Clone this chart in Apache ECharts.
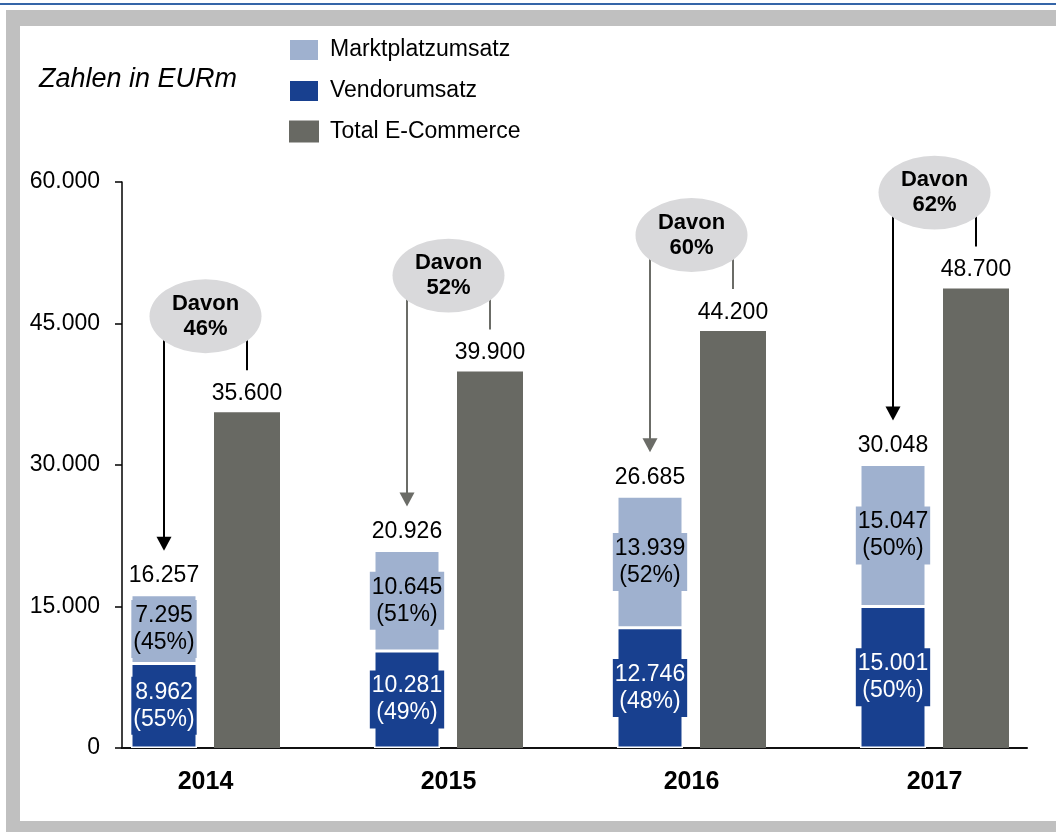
<!DOCTYPE html>
<html>
<head>
<meta charset="utf-8">
<script src="https://cdn.jsdelivr.net/npm/echarts@6/dist/echarts.min.js"></script>
<style>
  body { margin: 0; background: #fff; }
  #topline { position: absolute; left: 0; top: 3px; width: 1056px; height: 2px; background: #3565a8; }
  #frame { position: absolute; left: 6px; top: 10px; right: 0; bottom: 0; background: #c0c0c0; }
  #inner { position: absolute; left: 20px; top: 26px; right: 0; bottom: 11px; background: #fff; }
  #chart { position: absolute; left: 0; top: 0; width: 1056px; height: 832px; }
</style>
</head>
<body>
<div id="topline"></div>
<div id="frame"></div>
<div id="inner"></div>
<div id="chart"></div>
<script>
// Zahlen in EURm
const years = ['2014', '2015', '2016', '2017']
const vendor = [8962, 10281, 12746, 15001]      // Vendorumsatz
const markt = [7295, 10645, 13939, 15047]       // Marktplatzumsatz
const ecommerce = [35600, 39900, 44200, 48700]  // Total E-Commerce
const yTicks = [0, 15000, 30000, 45000, 60000]

const arrowColors = ['#000', '#6b6c67', '#6b6c67', '#000']
const barWidth = 66
const barGapPx = 17
const font = 'Liberation Sans, Arial, sans-serif'

const fmt = v => String(v).replace(/\B(?=(\d{3})+(?!\d))/g, '.')
const totals = vendor.map((v, i) => v + markt[i])

let chart = echarts.init(document.getElementById('chart'))

let option = {
  animation: false,
  textStyle: { fontFamily: font, color: '#000' },
  title: {
    text: 'Zahlen in EURm',
    left: 34,
    top: 61,
    textStyle: { fontSize: 27, fontStyle: 'italic', fontWeight: 'normal', color: '#000', fontFamily: font }
  },
  legend: {
    data: ['Marktplatzumsatz', 'Vendorumsatz', 'Total E-Commerce'],
    orient: 'vertical',
    left: 283,
    top: 33,
    itemWidth: 30,
    itemHeight: 22,
    itemGap: 17,
    icon: 'rect',
    textStyle: { fontSize: 23, color: '#000', padding: [0, 0, 0, 6] }
  },
  grid: [
    { left: 84, width: 986, top: 182, bottom: 84 },
    { left: 122, right: 29, top: 182, bottom: 84 }
  ],
  xAxis: [
    {
      type: 'category',
      gridIndex: 0,
      data: years,
      axisLine: { show: false },
      axisTick: { show: false },
      axisLabel: { margin: 22, fontSize: 25, fontWeight: 'bold', color: '#000' }
    },
    {
      type: 'value',
      gridIndex: 1,
      min: 0,
      max: 1,
      axisLine: { show: true, lineStyle: { color: '#111', width: 2 } },
      axisTick: { show: false },
      axisLabel: { show: false },
      splitLine: { show: false }
    }
  ],
  yAxis: [
    { type: 'value', gridIndex: 0, min: 0, max: 60000, show: false },
    {
      type: 'value',
      gridIndex: 1,
      min: yTicks[0],
      max: yTicks[yTicks.length - 1],
      interval: 15000,
      axisLine: { show: true, lineStyle: { color: '#000', width: 1.5 } },
      axisTick: { show: true, length: 7, lineStyle: { color: '#000', width: 1.5 } },
      axisLabel: { margin: 22, fontSize: 23, color: '#000', formatter: v => fmt(v) },
      splitLine: { show: false }
    }
  ],
  series: [
    {
      name: 'Vendorumsatz',
      type: 'bar',
      stack: 'umsatz',
      barWidth: barWidth,
      barGap: (barGapPx / barWidth * 100) + '%',
      data: vendor,
      itemStyle: { color: '#18408f', borderColor: '#fff', borderWidth: 1.5 },
      label: {
        show: true,
        position: 'inside',
        color: '#fff',
        fontSize: 23,
        lineHeight: 27,
        padding: [2, 2],
        backgroundColor: '#18408f',
        formatter: p => fmt(p.value) + '\n(' + Math.round(p.value / totals[p.dataIndex] * 100) + '%)'
      }
    },
    {
      name: 'Marktplatzumsatz',
      type: 'bar',
      stack: 'umsatz',
      barWidth: barWidth,
      data: markt,
      itemStyle: { color: '#9fb1cf', borderColor: '#fff', borderWidth: 1.5 },
      label: {
        show: true,
        position: 'inside',
        color: '#000',
        fontSize: 23,
        lineHeight: 27,
        padding: [2, 2],
        backgroundColor: '#9fb1cf',
        formatter: p => fmt(p.value) + '\n(' + Math.round(p.value / totals[p.dataIndex] * 100) + '%)'
      }
    },
    {
      name: 'Total E-Commerce',
      type: 'bar',
      barWidth: barWidth,
      data: ecommerce,
      itemStyle: { color: '#686963' },
      label: {
        show: true,
        position: 'top',
        distance: 7,
        fontSize: 23,
        color: '#000',
        formatter: p => fmt(p.value)
      }
    },
    {
      // Davon-Blasen, Pfeile und Summen
      name: 'davon',
      type: 'custom',
      z: 5,
      silent: true,
      data: years.map((y, i) => [i, totals[i]]),
      renderItem: (params, api) => {
        let i = params.dataIndex
        let stackPt = api.coord([i, totals[i]])
        let grayPt = api.coord([i, ecommerce[i]])
        let off = (barWidth + barGapPx) / 2
        let cx = stackPt[0]
        let lx = cx - off
        let rx = cx + off
        let ey = grayPt[1] - 96
        let tipY = stackPt[1] - 44
        let c = arrowColors[i]
        let pct = Math.round(totals[i] / ecommerce[i] * 100)
        return {
          type: 'group',
          children: [
            { type: 'line', shape: { x1: lx, y1: ey, x2: lx, y2: tipY - 12 }, style: { stroke: c, lineWidth: 2 } },
            { type: 'polygon', shape: { points: [[lx - 7.5, tipY - 14], [lx + 7.5, tipY - 14], [lx, tipY]] }, style: { fill: c } },
            { type: 'line', shape: { x1: rx, y1: ey, x2: rx, y2: grayPt[1] - 42 }, style: { stroke: c, lineWidth: 2 } },
            { type: 'circle', x: cx, y: ey, scaleY: 0.66, shape: { cx: 0, cy: 0, r: 56 }, style: { fill: '#d9d9db' } },
            {
              type: 'text',
              x: cx,
              y: ey,
              style: {
                text: 'Davon\n' + pct + '%',
                align: 'center',
                verticalAlign: 'middle',
                lineHeight: 25,
                fill: '#000',
                font: 'bold 22px ' + font
              }
            },
            {
              type: 'text',
              x: lx,
              y: stackPt[1] - 7,
              style: {
                text: fmt(totals[i]),
                align: 'center',
                verticalAlign: 'bottom',
                fill: '#000',
                font: '23px ' + font
              }
            }
          ]
        }
      }
    }
  ]
}
chart.setOption(option)
</script>
</body>
</html>
